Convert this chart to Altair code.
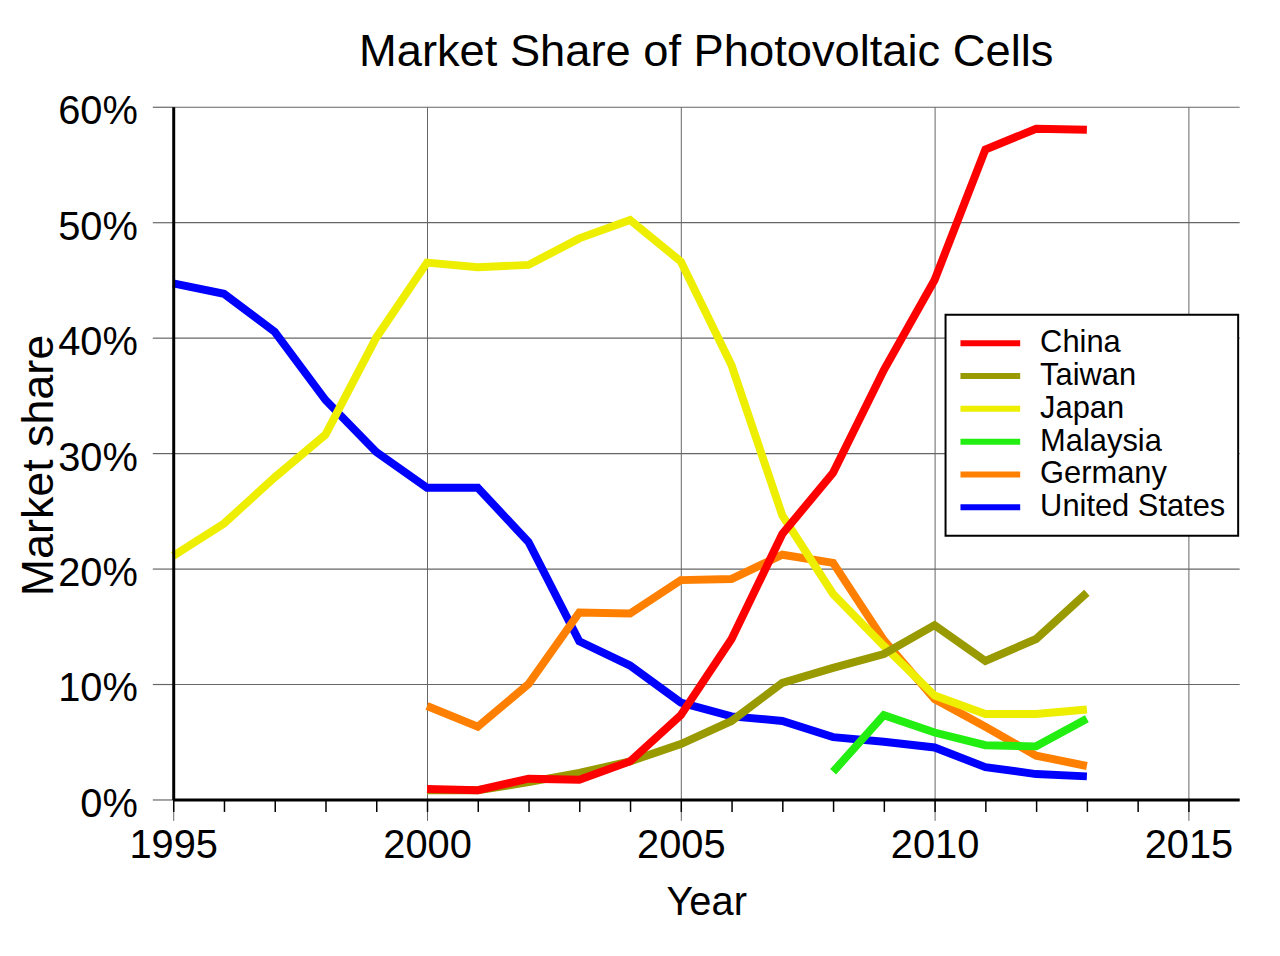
import altair as alt
import pandas as pd

# ---------------- data ----------------
countries = ["China", "Taiwan", "Japan", "Malaysia", "Germany", "United States"]
colors = ["#ff0000", "#999900", "#eeee00", "#22ee11", "#ff8000", "#0000ff"]

years_us_jp = list(range(1995, 2014))
us = [44.7, 43.8, 40.5, 34.6, 30.1, 27.0, 27.0, 22.3, 13.7, 11.6,
      8.4, 7.2, 6.8, 5.4, 5.0, 4.5, 2.8, 2.2, 2.0]
japan = [21.1, 23.9, 27.9, 31.6, 40.0, 46.5, 46.1, 46.3, 48.6, 50.2,
         46.6, 37.6, 24.6, 17.8, 13.3, 9.0, 7.4, 7.4, 7.8]

years_00 = list(range(2000, 2014))
china = [0.9, 0.8, 1.8, 1.7, 3.3, 7.3, 13.9, 23.0, 28.3, 37.2, 45.0, 56.3, 58.1, 58.0]
taiwan = [0.8, 0.8, 1.5, 2.3, 3.3, 4.8, 6.8, 10.1, 11.4, 12.6, 15.1, 12.0, 13.9, 17.9]
germany = [8.1, 6.3, 10.0, 16.2, 16.1, 19.0, 19.1, 21.2, 20.5, 13.8, 8.7, 6.3, 3.8, 2.9]

years_my = list(range(2008, 2014))
malaysia = [2.4, 7.3, 5.8, 4.7, 4.6, 7.0]

y_ticks = [0, 10, 20, 30, 40, 50, 60]
x_major = [1995, 2000, 2005, 2010, 2015]
x_minor = list(range(1995, 2016))

series = {
    "China": (years_00, china),
    "Taiwan": (years_00, taiwan),
    "Japan": (years_us_jp, japan),
    "Malaysia": (years_my, malaysia),
    "Germany": (years_00, germany),
    "United States": (years_us_jp, us),
}
rows = []
for name, (ys, vs) in series.items():
    for yr, v in zip(ys, vs):
        rows.append({"country": name, "year": yr, "share": v})
df = pd.DataFrame(rows)

FONT = "Liberation Sans"

xscale = alt.Scale(domain=[1995, 2016], nice=False, zero=False)
yscale = alt.Scale(domain=[0, 60], nice=False)
color_scale = alt.Scale(domain=countries, range=colors)

# axes drawn beneath the data: grid + gray ticks + y labels/title
axisA_x = alt.Axis(orient="bottom", values=x_major, grid=True, gridColor="#666666",
                   gridWidth=1, ticks=True, tickSize=21, tickColor="#666666",
                   tickWidth=1, labels=False, domain=False, title=None, zindex=0)
axisA_y = alt.Axis(orient="left", values=y_ticks, grid=True, gridColor="#666666",
                   gridWidth=1.2, ticks=True, tickSize=21, tickColor="#666666",
                   tickWidth=1.2, labelExpr="datum.value + '%'", labelFontSize=40,
                   labelFont=FONT, labelColor="black", labelPadding=15, labelOffset=5,
                   domain=False, title="Market share", titleFontSize=45,
                   titleFont=FONT, titleFontWeight="normal", titleColor="black",
                   titleX=-121, titleY=360, titleAngle=270, titleAlign="center",
                   titleBaseline="alphabetic", zindex=0)

# axes drawn above the data: black domain lines, minor ticks, x labels/title
axisB_x = alt.Axis(orient="bottom", values=x_minor, grid=False, ticks=True,
                   tickSize=12, tickColor="black", tickWidth=1.5, format="d",
                   labelExpr="datum.value % 5 === 0 ? datum.label : ''",
                   labelFontSize=40, labelFont=FONT, labelColor="black",
                   labelBaseline="alphabetic", labelPadding=46,
                   labelFlush=False, labelOverlap=False,
                   domain=True, domainColor="black", domainWidth=3,
                   title="Year", titleFontSize=40, titleFont=FONT,
                   titleFontWeight="normal", titleColor="black",
                   titleBaseline="alphabetic", titleX=535.5, titleY=115.7,
                   zindex=1)
axisB_y = alt.Axis(orient="left", values=y_ticks, grid=False, ticks=False,
                   labels=False, domain=True, domainColor="black", domainWidth=3,
                   title=None, zindex=1)

legend = alt.Legend(orient="none", legendX=776, legendY=209, title=None,
                    labelFontSize=31, labelFont=FONT, labelColor="black",
                    labelLimit=500,
                    symbolType="stroke", symbolSize=3600, symbolStrokeWidth=6,
                    labelOffset=17, padding=12, strokeColor="black",
                    fillColor="white", clipHeight=33, rowPadding=0)

def line_layer(name):
    return (
        alt.Chart(df)
        .transform_filter(alt.datum.country == name)
        .mark_line(strokeWidth=8, strokeCap="butt")
        .encode(
            x=alt.X("year:Q", scale=xscale, axis=axisA_x),
            y=alt.Y("share:Q", scale=yscale, axis=axisA_y),
            color=alt.Color("country:N", scale=color_scale, legend=legend),
        )
    )

# draw order: United States at the bottom, China on top
lines = alt.layer(*[line_layer(n) for n in reversed(countries)])

frame = alt.Chart(df).mark_point(opacity=0).encode(
    x=alt.X("year:Q", scale=xscale, axis=axisB_x),
    y=alt.Y("share:Q", scale=yscale, axis=axisB_y),
)

chart = (
    alt.layer(lines, frame)
    .resolve_axis(x="independent", y="independent")
    .properties(
        width=1071,
        height=696,
        autosize=alt.AutoSizeParams(type="none"),
        padding={"left": 166, "top": 97, "right": 33, "bottom": 147},
        title=alt.TitleParams(
            "Market Share of Photovoltaic Cells", fontSize=45.5, font=FONT,
            fontWeight="normal", color="black", anchor="middle", frame="group",
            baseline="alphabetic", offset=20, dy=40,
        ),
    )
    .configure(font=FONT)
    .configure_view(strokeOpacity=0)
    .configure_legend(strokeWidth=2)
)

chart.save("out.html", embed_options={"renderer": "svg", "actions": False})
